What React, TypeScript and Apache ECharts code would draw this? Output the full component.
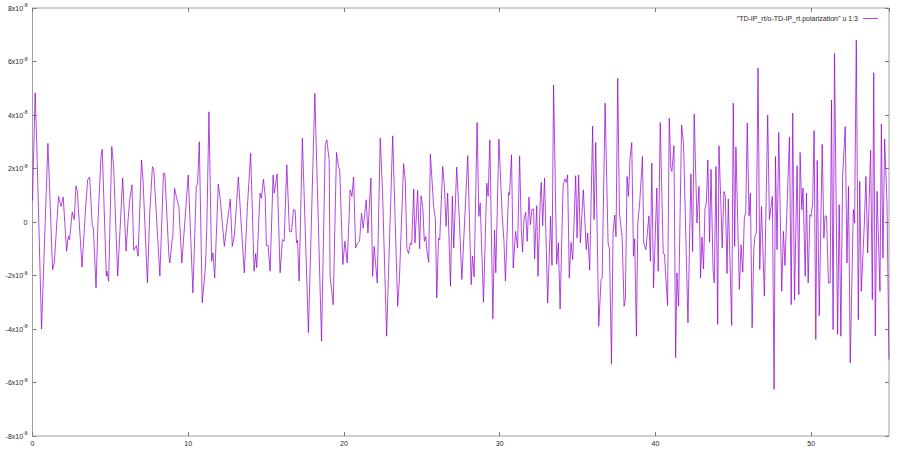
import React, { useEffect, useRef } from 'react';
import * as echarts from 'echarts';

// time axis (x) and polarization (in units of 1e-8)
const times: number[] = [
  0, 0.17, 0.28, 0.58, 0.99, 1.29, 1.4, 1.67, 1.84, 1.97, 2.19, 2.3, 2.38, 2.55, 2.68, 2.79, 2.88, 3.18,
  3.39, 3.54, 3.67, 3.84, 3.91, 4.08, 4.21, 4.4, 4.48, 4.74, 4.78, 4.89, 5.09, 5.21, 5.47, 5.79, 6.01,
  6.14, 6.24, 6.39, 6.5, 6.67, 6.78, 7.0, 7.1, 7.38, 7.53, 7.7, 7.79, 8.18, 8.41, 8.5, 8.76, 8.82, 8.97,
  9.01, 9.12, 9.23, 9.4, 9.59, 10.0, 10.3, 10.52, 10.6, 10.71, 10.9, 11.11, 11.2, 11.33, 11.5, 11.59,
  11.7, 11.93, 12.06, 12.32, 12.45, 12.7, 12.83, 12.96, 13.22, 13.37, 13.6, 13.8, 14.01, 14.23, 14.33,
  14.4, 14.61, 14.7, 14.83, 14.94, 15.02, 15.13, 15.26, 15.45, 15.52, 15.71, 15.9, 16.05, 16.16, 16.33,
  16.5, 16.63, 16.76, 16.87, 16.95, 17.02, 17.12,
  17.33, 17.72, 18.13, 18.56, 18.8, 18.9, 19.05, 19.11, 19.31, 19.52, 19.65, 19.73, 19.93, 20.06, 20.21,
  20.4, 20.51, 20.62, 20.75, 20.88, 21.0, 21.13, 21.24, 21.43, 21.54, 21.73, 21.84, 21.94, 22.14, 22.33,
  22.48, 22.74, 23.13, 23.45, 23.56, 23.83, 23.94, 24.04, 24.15, 24.26, 24.35, 24.48, 24.56, 24.73,
  24.86, 24.95, 25.06, 25.16, 25.25, 25.34, 25.44, 25.55, 25.76, 25.87, 25.96, 26.07, 26.15, 26.34,
  26.45, 26.56, 26.66, 26.84, 26.96, 27.05, 27.24, 27.41, 27.57, 27.95, 28.17, 28.25, 28.36, 28.55,
  28.66, 28.75, 28.96, 29.17, 29.26, 29.37, 29.56, 29.67, 29.75, 29.95,
  30.16, 30.27, 30.37, 30.57, 30.63, 30.76, 30.87, 31.02, 31.15, 31.28, 31.39, 31.47, 31.56, 31.67,
  31.77, 31.88, 31.97, 32.07, 32.18, 32.24, 32.38, 32.46, 32.61, 32.67, 32.76, 32.88, 33.08, 33.27,
  33.36, 33.46, 33.66, 33.77, 33.88, 34.07, 34.18, 34.28, 34.36, 34.47, 34.58, 34.69, 34.88, 34.97,
  35.07, 35.18, 35.37, 35.56, 35.65, 35.78, 35.97, 36.06, 36.17, 36.36, 36.51, 36.58, 36.77, 36.96,
  37.05, 37.18, 37.28, 37.39, 37.47, 37.58, 37.69, 37.86, 37.99, 38.07, 38.18, 38.27, 38.37, 38.48,
  38.59, 38.67, 38.78, 38.87, 38.99, 39.17, 39.25, 39.39, 39.58, 39.68, 39.77, 39.88,
  40.09, 40.18, 40.31, 40.5, 40.58, 40.78, 40.89, 40.99, 41.06, 41.19, 41.3, 41.38, 41.49, 41.68,
  41.81, 42.09, 42.28, 42.39, 42.49, 42.67, 42.8, 42.9, 42.99, 43.09, 43.18, 43.27, 43.37, 43.48,
  43.57, 43.7, 43.78, 43.89, 44.0, 44.08, 44.21, 44.29, 44.4, 44.49, 44.6, 44.68, 44.9, 45.0, 45.09,
  45.17, 45.39, 45.5, 45.61, 45.71, 45.8, 45.9, 46.01, 46.1, 46.21, 46.32, 46.39, 46.48, 46.59, 46.7,
  46.81, 47.0, 47.21, 47.32, 47.51, 47.62, 47.71, 47.81, 47.92, 48.11, 48.22, 48.32, 48.61, 48.72,
  48.82, 48.93, 49.1, 49.21, 49.29, 49.4, 49.48, 49.62, 49.7, 49.81, 49.92, 49.99,
  50.1, 50.19, 50.3, 50.39, 50.52, 50.71, 50.82, 50.9, 50.99, 51.11, 51.22, 51.31, 51.41, 51.5, 51.7,
  51.8, 51.91, 52.02, 52.19, 52.3, 52.4, 52.51, 52.71, 52.79, 52.9, 53.03, 53.12, 53.22, 53.41, 53.52,
  53.63, 53.82, 53.93, 54.02, 54.12, 54.23, 54.42, 54.51, 54.61, 54.72, 54.87, 55.0,
];

const polarization: number[] = [
  0.8, 4.83, 2.8, -4.0, 2.94, -1.78, -1.53, 0.95, 0.58, 0.93, -1.09, -0.53, -0.66, 0.37, 0.09, 1.35, 1.14, -1.69,
  0.33, 1.58, 1.68, -0.16, -0.22, -2.46, 0.09, 2.45, 2.72, -2.02, -1.84, -2.21, 2.82, 2.07, -2.02, 1.64, -1.09,
  0.09, 0.83, 1.39, -1.06, -0.88, -1.28, 2.32, 1.52, -2.27, 0.34, 2.07, 1.95, -2.02, 1.83, 1.8, -1.28, -1.53, -0.66,
  -0.56, 1.27, 0.96, 0.58, -1.53, 1.76, -2.65, 1.33, 1.42, 3.0, -3.02, -1.65, -0.04, 4.12, -1.47, -1.15,
  -2.09, 1.42, 0.83, -0.91, -0.29, 0.86, -0.91, -0.53, 1.68, 0.21, -1.9, 0.58, 2.57, -1.84, -1.18,
  -1.71, 1.08, 0.89, 1.6, 0.96, -0.88, -0.88, -1.84, 1.76, 1.08, 1.8, -1.9, -0.66, -0.72, 2.14,
  -0.35, -0.37, 0.46, 0.43, -0.78, -0.68, -2.21,
  3.13, -4.14, 4.81, -4.45, 2.88, 3.07, 2.32, -2.03, -3.09, 2.6, 2.07, 1.94, -1.59, -0.72, -1.53,
  1.2, 0.96, 1.68, -0.97, -0.78, -0.72, 0.33, -0.23, 0.83, -0.41, 1.64, -2.03, -0.91, -2.28, 3.13,
  1.08, -4.27, 3.22, -3.15, -2.15, 2.18, 1.52, -1.0, -1.18, -0.78, -0.84, 1.23, -0.78, 1.18,
  -1.0, 0.98, 0.58, -0.72, -0.54, -1.16, -1.51, 2.54, 0.58, 0.09, -2.84, -0.6, -0.66, 2.08,
  1.33, -0.16, 1.08, -2.4, 0.96, -0.97, 2.05, 0.09, -2.15, 2.48, -2.34, -1.28, -2.05, 3.72,
  0.21, 0.71, -3.0, 1.45, 0.96, 3.07, -3.62, -0.3, -1.9, 3.1,
  0.25, -0.66, -2.21, 1.1, 1.02, 2.51, -1.72, -0.35, -0.97, 2.47, -0.29, -1.13, 0.09, 0.36,
  -0.72, 0.93, -0.1, 0.46, 0.49, -1.38, 0.61, -2.03, 0.96, 1.48, -0.14, 1.64, -3.03, 0.21,
  -1.62, 5.12, -1.58, -0.78, -3.25, 1.33, 1.61, 1.48, 1.76, -2.09, -0.76, -1.4, 1.73, -0.6,
  1.76, -0.78, 1.2, -1.03, -0.41, -1.8, 3.59, 0.09, 2.97, -3.9, -2.15, -2.1, 4.44, -0.78,
  -1.0, -5.3, -0.43, 0.26, -0.55, 5.37, 0.33, -0.54, -3.15, -2.9, 1.7, 0.96, 2.39, 2.97,
  -1.28, -0.63, -4.27, -0.04, 0.71, 2.45, -0.78, -1.03, 0.23, -1.47, 2.2, -2.46,
  1.27, -1.84, 3.72, -1.18, -1.2, -3.12, 3.88, 2.01, 1.89, 2.85, -5.07, -1.9, -3.15, 3.63,
  2.88, -3.77, 1.8, -1.1, 4.04, -0.04, 1.33, -2.09, -0.56, -1.75, 0.48, 0.71, 2.32, -0.76,
  1.97, -1.78, -2.28, 2.07, -3.83, 2.85, 0.58, -0.97, 1.14, 0.96, -1.93, 0.86, -3.87, 4.44, -0.91,
  2.8, -2.52, -0.85, -1.88, 0.15, 0.36, 3.7, 0.23, 1.08, -3.95, -1.03, -0.54, -0.4, 5.75, -1.78,
  0.58, -2.77, 4.0, 0.09, 0.96, -6.26, 2.45, -1.03, 3.35, -2.59, -0.35, -1.63, 3.17, -3.09,
  4.07, -2.92, 2.1, -2.71, 2.6, 0.46, 1.27, -2.03, 1.08, -2.28, 0.27, 0.21,
  0.71, 3.42, -4.39, 2.3, -3.5, 2.9, -0.6, 0.23, 0.21, -2.28, -2.28, 4.56, -4.02, 6.3, -4.2,
  0.65, -4.27, 1.7, 3.57, -1.53, 1.33, -5.26, 0.46, -0.04, 6.8, -3.65, 1.52, -2.59, -0.16, 1.7,
  -1.16, 2.68, -2.9, 5.58, -4.26, 1.15, -2.59, 3.66, -1.35, 3.1, 0.7, -5.14,
];

const seriesName = '"TD-IP_rt/o-TD-IP_rt.polarization" u 1:3';
const xTicks = { min: 0, max: 55, interval: 10 };
const yTicks = { min: -8, max: 8, interval: 2 };

const labelColor = '#262626';
const tickColor = '#7a7a7a';
const lineColor = 'rgba(148, 0, 211, 0.72)';
const font = 'Liberation Sans, Arial, sans-serif';

const App: React.FC = () => {
  const chartRef = useRef<HTMLDivElement>(null);

  useEffect(() => {
    if (!chartRef.current) return undefined;
    const chart = echarts.init(chartRef.current, undefined, { renderer: 'svg' });

    const yLabel = (v: number) => (v === 0 ? '{b|0}' : `{b|${v}x10}{s|-8}`);
    const rich = {
      b: { fontSize: 7, color: labelColor, fontFamily: font },
      s: { fontSize: 5, color: labelColor, fontFamily: font, padding: [0, 0, 6, 0] },
    };

    const options = {
      animation: false,
      textStyle: { fontFamily: font },
      grid: {
        left: 32.5,
        right: 11,
        top: 8,
        bottom: 16,
        show: true,
        borderColor: '#a0a0a0',
        borderWidth: 1,
        backgroundColor: 'transparent',
      },
      legend: {
        show: true,
        right: 17,
        top: 10,
        align: 'right',
        itemWidth: 15,
        itemHeight: 6,
        textStyle: { fontSize: 7, color: labelColor, fontFamily: font },
        data: [{ name: seriesName, icon: 'path://M0,0 L15,0 L15,1 L0,1 Z' }],
      },
      xAxis: [
        {
          type: 'value',
          ...xTicks,
          position: 'bottom',
          axisLine: { show: false, onZero: false },
          axisTick: { show: true, inside: true, length: 4, lineStyle: { color: tickColor } },
          axisLabel: {
            color: labelColor,
            fontSize: 7,
            margin: 4,
            showMaxLabel: false,
            fontFamily: font,
          },
          splitLine: { show: false },
        },
        {
          type: 'value',
          ...xTicks,
          position: 'top',
          axisLine: { show: false, onZero: false },
          axisTick: { show: true, inside: true, length: 4, lineStyle: { color: tickColor } },
          axisLabel: { show: false },
          splitLine: { show: false },
        },
      ],
      yAxis: [
        {
          type: 'value',
          ...yTicks,
          position: 'left',
          axisLine: { show: false, onZero: false },
          axisTick: { show: true, inside: true, length: 4, lineStyle: { color: tickColor } },
          axisLabel: { formatter: yLabel, rich, margin: 5 },
          splitLine: { show: false },
        },
        {
          type: 'value',
          ...yTicks,
          position: 'right',
          axisLine: { show: false, onZero: false },
          axisTick: { show: true, inside: true, length: 4, lineStyle: { color: tickColor } },
          axisLabel: { show: false },
          splitLine: { show: false },
        },
      ],
      series: [
        {
          name: seriesName,
          type: 'line',
          xAxisIndex: 0,
          yAxisIndex: 0,
          data: times.map((t, i) => [t, polarization[i]]),
          symbol: 'none',
          showSymbol: false,
          clip: true,
          lineStyle: { color: lineColor, width: 1 },
          itemStyle: { color: lineColor },
        },
      ],
    };

    chart.setOption(options as any);
    return () => {
      chart.dispose();
    };
  }, []);

  return (
    <div
      ref={chartRef}
      style={{ position: 'fixed', left: 0, top: 0, width: '900px', height: '452px', background: '#fff' }}
    />
  );
};

export default App;
